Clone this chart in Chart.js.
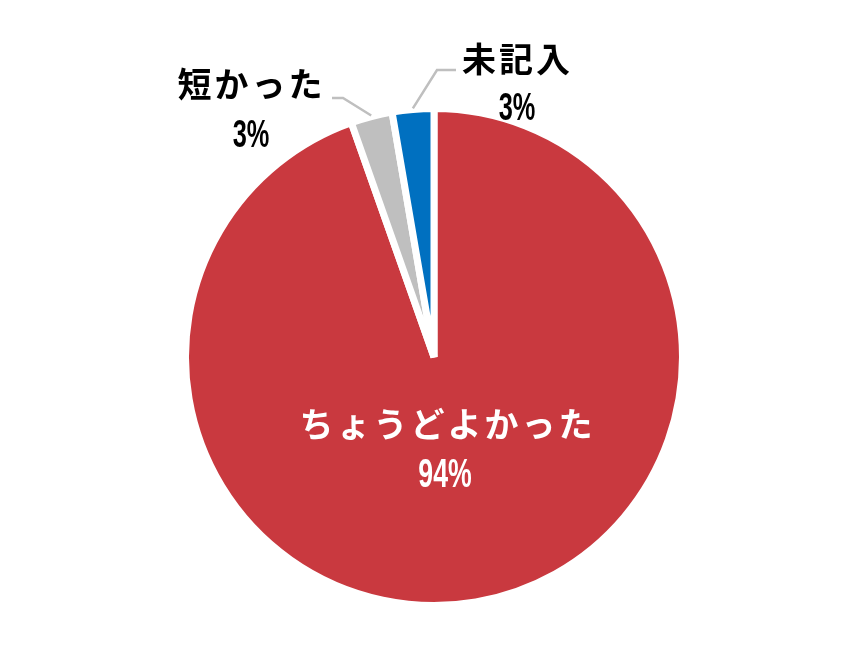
<!DOCTYPE html>
<html lang="ja">
<head>
<meta charset="utf-8">
<title>pie</title>
<script src="https://cdn.jsdelivr.net/npm/chart.js@4.4.4/dist/chart.umd.min.js"></script>
<style>
  html, body { margin: 0; padding: 0; background: #fff; }
  #wrap { width: 865px; height: 670px; position: relative; }
</style>
</head>
<body>
<div id="wrap"><canvas id="pie"></canvas></div>
<script>
// ─── Data ────────────────────────────────────────────────────────────────────
const categories = ['ちょうどよかった', '短かった', '未記入'];
const values     = [94.6, 2.7, 2.7];
const pctLabels  = ['94%', '3%', '3%'];
const colors     = ['#C9393F', '#BFBFBF', '#0070C0'];

// ─── Label layout (text anchors, leader elbows) ──────────────────────────────
const LABEL_LAYOUT = [
  { name: { x: 446, y: 424 }, pct: { x: 445, y: 487 }, size: 41, color: '#fff', leader: null },
  { name: { x: 250, y: 84 },  pct: { x: 251, y: 147 }, size: 39, color: '#000',
    leader: { from: { x: 332, y: 98 }, elbow: { x: 343, y: 98 } } },
  { name: { x: 516, y: 59 },  pct: { x: 517, y: 120 }, size: 39, color: '#000',
    leader: { from: { x: 456, y: 70 }, elbow: { x: 437, y: 70 } } },
];

const JP_FONT  = "bold 34px 'Noto Sans CJK JP', 'Noto Sans', sans-serif";
const JP_SPACE = 3;
const PCT_FONT = "'Liberation Sans', Arial, sans-serif";
const PCT_SX   = 0.65;  // condensed look for the numbers

// draw text char by char so letter spacing is even
function spacedText(ctx, str, cx, cy, spacing) {
  const chars = [...str];
  const widths = chars.map(c => ctx.measureText(c).width);
  const total = widths.reduce((a, b) => a + b, 0) + spacing * (chars.length - 1);
  let x = cx - total / 2;
  chars.forEach((c, i) => {
    ctx.fillText(c, x, cy);
    x += widths[i] + spacing;
  });
}

const pieLabels = {
  id: 'pieLabels',
  afterDatasetsDraw(chart) {
    const ctx  = chart.ctx;
    const meta = chart.getDatasetMeta(0);

    meta.data.forEach((arc, i) => {
      const lay = LABEL_LAYOUT[i];
      const { x, y, startAngle, endAngle, outerRadius } =
        arc.getProps(['x', 'y', 'startAngle', 'endAngle', 'outerRadius'], true);

      ctx.save();

      // Leader line from text to slice edge
      if (lay.leader) {
        const mid = (startAngle + endAngle) / 2;
        const ex = x + Math.cos(mid) * (outerRadius + 1);
        const ey = y + Math.sin(mid) * (outerRadius + 1);
        ctx.beginPath();
        ctx.moveTo(lay.leader.from.x, lay.leader.from.y);
        ctx.lineTo(lay.leader.elbow.x, lay.leader.elbow.y);
        ctx.lineTo(ex, ey);
        ctx.strokeStyle = '#BFBFBF';
        ctx.lineWidth   = 2.5;
        ctx.stroke();
      }

      // Category name
      ctx.fillStyle    = lay.color;
      ctx.font         = JP_FONT;
      ctx.textAlign    = 'left';
      ctx.textBaseline = 'middle';
      spacedText(ctx, categories[i], lay.name.x, lay.name.y, JP_SPACE);

      // Percentage
      ctx.translate(lay.pct.x, lay.pct.y);
      ctx.scale(PCT_SX, 1);
      ctx.font         = `bold ${lay.size}px ${PCT_FONT}`;
      ctx.textAlign    = 'center';
      ctx.textBaseline = 'alphabetic';
      ctx.fillText(pctLabels[i], 0, 0);

      ctx.restore();
    });
  },
};

new Chart(document.getElementById('pie'), {
  type: 'pie',
  data: {
    labels: categories,
    datasets: [{
      data: values,
      backgroundColor: colors,
      borderColor: '#fff',
      borderWidth: 7,
    }],
  },
  options: {
    responsive: true,
    maintainAspectRatio: false,
    animation: false,
    layout: { padding: { top: 105, bottom: 61, left: 3, right: 0 } },
    plugins: {
      legend:  { display: false },
      tooltip: { enabled: false },
    },
  },
  plugins: [pieLabels],
});
</script>
</body>
</html>
